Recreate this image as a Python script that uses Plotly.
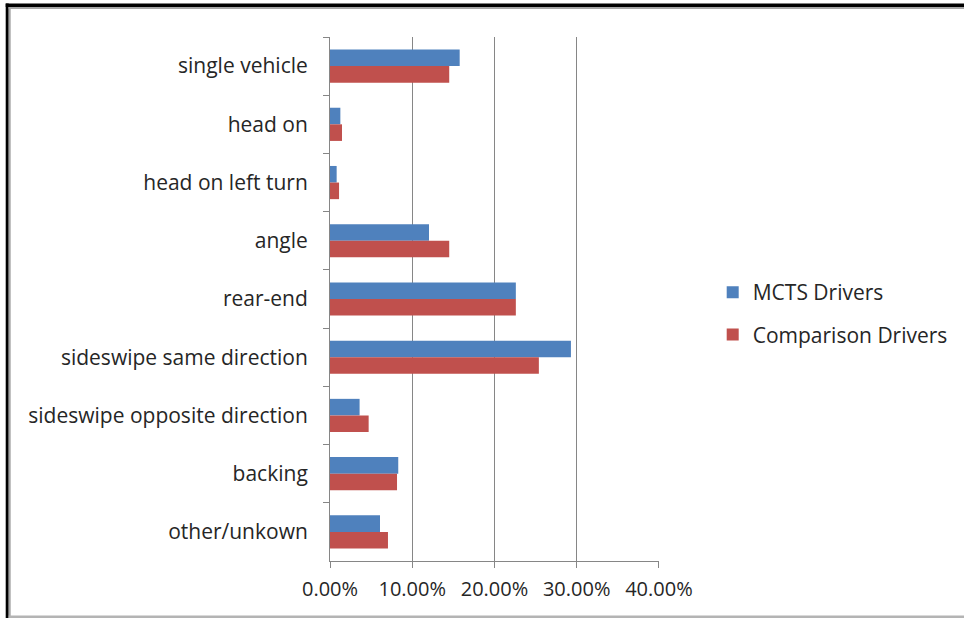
import plotly.graph_objects as go

categories = ["single vehicle", "head on", "head on left turn", "angle", "rear-end",
              "sideswipe same direction", "sideswipe opposite direction", "backing", "other/unkown"]
mcts = [0.1577, 0.0126, 0.0081, 0.1204, 0.2260, 0.2930, 0.0360, 0.0830, 0.0608]
comparison = [0.1450, 0.0146, 0.0110, 0.1450, 0.2260, 0.2540, 0.0470, 0.0815, 0.0705]
x_ticks = [0, 0.1, 0.2, 0.3, 0.4]

W, H = 964, 618
L, R, T, B = 330.3, 659.3, 37.0, 561.0

def px(x):
    return (x - L) / (R - L)

def py(y):
    return (B - y) / (B - T)

FONT = "Open Sans"
FS = 21
TXT = "#262626"
AX = "#868686"

fig = go.Figure()
fig.add_trace(go.Bar(y=categories, x=mcts, orientation="h", name="MCTS Drivers",
                     marker=dict(color="#4F81BD", line=dict(color="#4F81BD", width=0)),
                     legendgroup="a"))
fig.add_trace(go.Bar(y=categories, x=comparison, orientation="h", name="Comparison Drivers",
                     marker=dict(color="#C0504D", line=dict(color="#C0504D", width=0)),
                     legendgroup="b"))

def rect(x0, y0, x1, y1, color):
    return dict(type="rect", xref="paper", yref="paper",
                x0=px(x0), x1=px(x1), y0=py(y0), y1=py(y1),
                fillcolor=color, line=dict(width=0), layer="above")

shapes = [
    rect(6, 3.5, W + 2, 7, "black"),
    rect(6, 3.5, 9, H + 2, "black"),
    rect(9, 7, W + 2, 9, "#A6A6A6"),
    rect(9, 7, 11, H + 2, "#A6A6A6"),
    rect(9, 615.5, W + 2, H + 2, "#B4B4B4"),
]

fig.update_layout(
    width=W, height=H,
    margin=dict(l=L, r=W - R, t=T, b=H - B, autoexpand=False),
    paper_bgcolor="white", plot_bgcolor="white",
    barmode="group", bargap=0.43, bargroupgap=0,
    font=dict(family=FONT, size=FS, color=TXT),
    showlegend=True,
    legend=dict(x=px(713), y=py(272), xanchor="left", yanchor="top",
                traceorder="grouped", tracegroupgap=12,
                font=dict(family=FONT, size=FS, color=TXT),
                bgcolor="rgba(0,0,0,0)"),
    shapes=shapes,
)
fig.update_xaxes(range=[0, 0.4001], tickvals=x_ticks, tickformat=".2%",
                 showgrid=True, gridcolor=AX, gridwidth=1,
                 showline=True, linecolor=AX, linewidth=1,
                 ticks="outside", ticklen=6, tickcolor=AX,
                 zeroline=False, ticklabelstandoff=4,
                 tickfont=dict(family=FONT, size=20, color=TXT), fixedrange=True)
fig.update_yaxes(autorange="reversed", showgrid=False,
                 showline=True, linecolor=AX, linewidth=1,
                 ticks="outside", ticklen=6, tickcolor=AX, tickson="boundaries",
                 ticklabelstandoff=17,
                 tickfont=dict(family=FONT, size=FS, color=TXT), fixedrange=True)

fig.write_html("out.html", config={"displayModeBar": False},
               post_script="document.documentElement.style.margin='0';"
                           "document.documentElement.style.padding='0';"
                           "document.body.style.margin='0';document.body.style.padding='0';"
                           "document.body.style.overflow='hidden';window.scrollTo(0,0);")
